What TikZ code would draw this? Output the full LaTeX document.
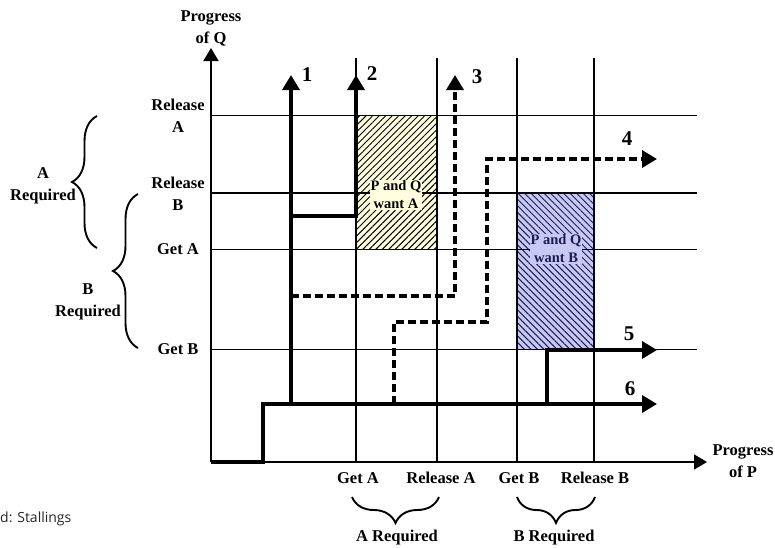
\documentclass[tikz,border=0pt]{standalone}
\usepackage{fontspec}
\setmainfont{Liberation Serif}
\newfontfamily\srcfont{Open Sans}
\usetikzlibrary{arrows.meta,patterns.meta,decorations.pathreplacing}
\definecolor{boxyellow}{HTML}{FFFFE0}
\definecolor{boxblue}{HTML}{C8C8F5}
\definecolor{hatchblue}{HTML}{1C1C50}
\tikzset{
  gridline/.style={line width=1.2pt},
  axis/.style={line width=1.6pt, -{Triangle[length=13pt,width=15pt]}},
  trail/.style={line width=3.5pt, line join=miter},
  trailarrow/.style={trail, -{Triangle[length=15pt,width=17pt]}},
  dashtrail/.style={trailarrow, dash pattern=on 8pt off 4pt},
  lbl/.style={font=\bfseries\fontsize{16.5}{22}\selectfont, align=center, inner sep=0pt},
  num/.style={font=\bfseries\fontsize{21}{24}\selectfont, inner sep=0pt},
  boxtext/.style={font=\bfseries\fontsize{14.5}{18}\selectfont, align=center, inner sep=1pt},
  bracestyle/.style={decorate, decoration={brace, amplitude=#1}, line width=1.9pt},
}
\begin{document}
\begin{tikzpicture}[x=1pt,y=-1pt]
\useasboundingbox (0,0) rectangle (775,547);
% hatched regions
\fill[boxyellow] (356,115.5) rectangle (437,249.5);
\fill[pattern={Lines[angle=45,distance=4.6pt,line width=1pt]}, pattern color=black] (356,115.5) rectangle (437,249.5);
\fill[boxblue] (517,193) rectangle (594,349.5);
\fill[pattern={Lines[angle=-45,distance=4.6pt,line width=1pt]}, pattern color=hatchblue] (517,193) rectangle (594,349.5);
% grid
\foreach \yy in {115.5,193,249.5,349.5} \draw[gridline] (211,\yy) -- (697,\yy);
\foreach \xx in {356,437,517,594} \draw[gridline] (\xx,58) -- (\xx,462);
% box texts
\node[boxtext, fill=boxyellow] (wantA) at (396,195) {P and Q\\want A};
\node[boxtext, fill=boxblue, text=hatchblue] (wantB) at (556,249) {P and Q\\want B};
% axes
\coordinate (o) at (211,462);
\coordinate (ytop) at (211,48);
\coordinate (xend) at (707,462);
\draw[axis] (o) -- (ytop);
\draw[axis] (o) -- (xend);
% trajectories
\coordinate (p6a) at (211,462); \coordinate (p6b) at (263,462);
\coordinate (p6c) at (263,404); \coordinate (p6d) at (657,404);
\coordinate (p1a) at (291,404); \coordinate (p1b) at (291,75);
\coordinate (p2a) at (291,216); \coordinate (p2b) at (356,216); \coordinate (p2c) at (356,75);
\coordinate (p3a) at (291,296); \coordinate (p3b) at (455,296); \coordinate (p3c) at (455,75);
\coordinate (p4a) at (394,404); \coordinate (p4b) at (394,322); \coordinate (p4c) at (487,322);
\coordinate (p4d) at (487,159); \coordinate (p4e) at (657,159);
\coordinate (p5a) at (547,404); \coordinate (p5b) at (547,350); \coordinate (p5c) at (657,350);
\draw[dashtrail] (p3a) -- (p3b) -- (p3c);
\draw[dashtrail] (p4a) -- (p4b) -- (p4c) -- (p4d) -- (p4e);
\draw[trailarrow] (p6a) -- (p6b) -- (p6c) -- (p6d);
\draw[trailarrow] (p1a) -- (p1b);
\draw[trailarrow] (p2a) -- (p2b) -- (p2c);
\draw[trailarrow] (p5a) -- (p5b) -- (p5c);
% numbers
\node[num] (n1) at (307,75) {1};
\node[num] (n2) at (372,74) {2};
\node[num] (n3) at (477,77) {3};
\node[num] (n4) at (627,139) {4};
\node[num] (n5) at (629,334) {5};
\node[num] (n6) at (630,389) {6};
% axis labels
\node[lbl] (pq) at (211,28) {Progress\\of Q};
\node[lbl] (pp) at (743,461) {Progress\\of P};
\node[lbl] (relA) at (178,116) {Release\\A};
\node[lbl] (relB) at (178,194) {Release\\B};
\node[lbl] (getA) at (178,249) {Get A};
\node[lbl] (getB) at (178,349) {Get B};
\node[lbl] (bgetA) at (358,478) {Get A};
\node[lbl] (brelA) at (441,478) {Release A};
\node[lbl] (bgetB) at (519,478) {Get B};
\node[lbl] (brelB) at (595,478) {Release B};
% braces
\draw[bracestyle=25pt] (97,248) -- (97,116);
\draw[bracestyle=25pt] (138,348) -- (138,194);
\draw[bracestyle=26pt] (439,497) -- (352,497);
\draw[bracestyle=26pt] (595,497) -- (517,497);
\node[lbl] (reqA) at (43,186) {A\\Required};
\node[lbl] (reqB) at (88,302) {B\\Required};
\node[lbl] (breqA) at (397,538) {A Required};
\node[lbl] (breqB) at (554,538) {B Required};
% source
\node[font=\srcfont\fontsize{14}{16}\selectfont, anchor=base west, inner sep=0pt, text=black!85] (src) at (0,522) {d: Stallings};
\end{tikzpicture}
\end{document}
